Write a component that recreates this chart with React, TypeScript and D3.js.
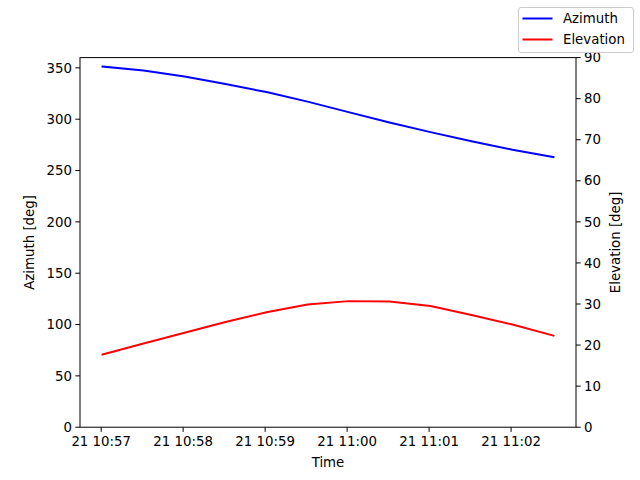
import * as React from "react";
import * as d3 from "d3";

// samples every 30 s starting 21st 10:57:01 (UTC)
const startTime = Date.UTC(2024, 0, 21, 10, 57, 1);
const stepSeconds = 30;
const azimuth: number[] = [351.3, 347.4, 341.5, 334.2, 326.4, 317.1, 306.9, 296.7, 287.4, 278.6, 270.3, 263.2];
const elevation: number[] = [17.7, 20.4, 23.0, 25.6, 28.0, 29.9, 30.7, 30.6, 29.5, 27.3, 25.0, 22.3];
const times: Date[] = azimuth.map((_, i) => new Date(startTime + i * stepSeconds * 1000));
const tickTimes: Date[] = [57, 58, 59, 60, 61, 62].map(m => new Date(Date.UTC(2024, 0, 21, 10, m, 0)));
const azTicks = [0, 50, 100, 150, 200, 250, 300, 350];
const elTicks = [0, 10, 20, 30, 40, 50, 60, 70, 80, 90];
const seriesNames = ["Azimuth", "Elevation"];
const seriesColors = ["#0000ff", "#ff0000"];

const W = 640;
const H = 480;
const left = 80, right = 576, top = 57.6, bottom = 427.2;
const font = "DejaVu Sans, sans-serif";

export default function App() {
  const t0 = times[0].getTime();
  const t1 = times[times.length - 1].getTime();
  const pad = (t1 - t0) * 0.05;
  const x = d3.scaleUtc().domain([t0 - pad, t1 + pad]).range([left, right]);
  const yAz = d3.scaleLinear().domain([0, 360]).range([bottom, top]);
  const yEl = d3.scaleLinear().domain([0, 90]).range([bottom, top]);
  const fmt = d3.utcFormat("%d %H:%M");

  const azLine = d3.line<number>().x((_, i) => x(times[i])).y(d => yAz(d));
  const elLine = d3.line<number>().x((_, i) => x(times[i])).y(d => yEl(d));

  return (
    <svg width={W} height={H} style={{ position: "absolute", left: 0, top: 0 }} fontFamily={font}>
      <rect width={W} height={H} fill="white" />
      <path d={azLine(azimuth)} fill="none" stroke={seriesColors[0]} strokeWidth={2} strokeLinejoin="round" strokeLinecap="square" />
      <path d={elLine(elevation)} fill="none" stroke={seriesColors[1]} strokeWidth={2} strokeLinejoin="round" strokeLinecap="square" />
      <rect x={left} y={top} width={right - left} height={bottom - top} fill="none" stroke="black" strokeWidth={1} />

      {tickTimes.map((t, i) => (
        <g key={i} transform={`translate(${x(t)},${bottom})`}>
          <line y2={4.67} stroke="black" />
          <text y={19} textAnchor="middle" fontSize={13.33}>{fmt(t)}</text>
        </g>
      ))}
      {azTicks.map(v => (
        <g key={v} transform={`translate(${left},${yAz(v)})`}>
          <line x2={-4.67} stroke="black" />
          <text x={-8} dy="0.35em" textAnchor="end" fontSize={13.33}>{v}</text>
        </g>
      ))}
      {elTicks.map(v => (
        <g key={v} transform={`translate(${right},${yEl(v)})`}>
          <line x2={4.67} stroke="black" />
          <text x={8} dy="0.35em" textAnchor="start" fontSize={13.33}>{v}</text>
        </g>
      ))}

      <text x={(left + right) / 2} y={467} textAnchor="middle" fontSize={13.33}>Time</text>
      <text transform={`translate(34,${(top + bottom) / 2}) rotate(-90)`} textAnchor="middle" fontSize={13.33}>Azimuth [deg]</text>
      <text transform={`translate(620,${(top + bottom) / 2}) rotate(-90)`} textAnchor="middle" fontSize={13.33}>Elevation [deg]</text>

      <g>
        <rect x={518.5} y={7.5} width={115} height={45} rx={2.5} fill="white" fillOpacity={0.8} stroke="#cccccc" />
        {seriesNames.map((n, i) => (
          <g key={n} transform={`translate(0,${18.5 + i * 21})`}>
            <line x1={522.5} x2={552.5} stroke={seriesColors[i]} strokeWidth={2} />
            <text x={563} dy="0.35em" fontSize={13.33}>{n}</text>
          </g>
        ))}
      </g>
    </svg>
  );
}
